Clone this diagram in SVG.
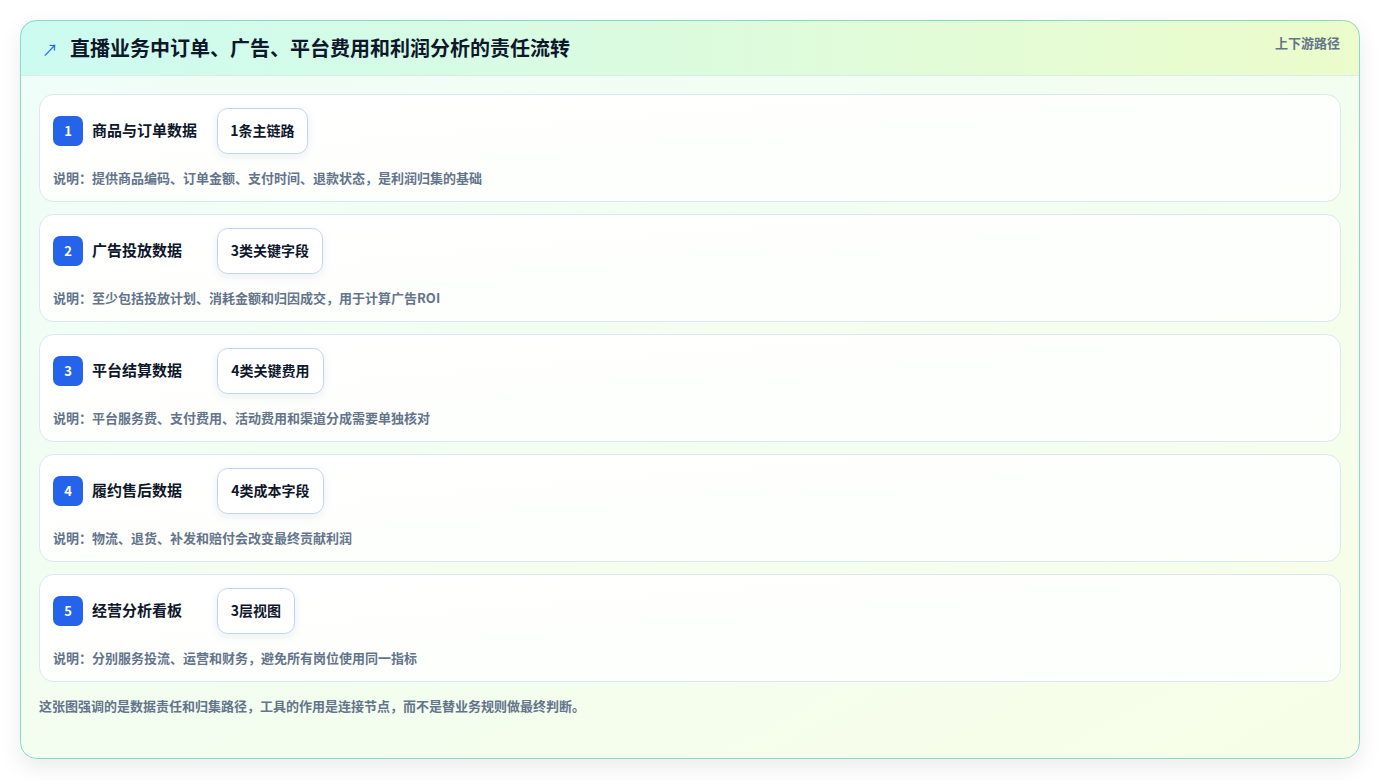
<svg xmlns="http://www.w3.org/2000/svg" width="1381" height="780" viewBox="0 0 1381 780">
<defs>
<linearGradient id="bg" x1="0" y1="0" x2="1" y2="1"><stop offset="0" stop-color="#effdf9"/><stop offset="1" stop-color="#f7fee7"/></linearGradient>
<linearGradient id="hd" x1="0" y1="0" x2="1" y2="0"><stop offset="0" stop-color="#ccfbf1"/><stop offset="1" stop-color="#ecfccb"/></linearGradient>
<linearGradient id="rowg" x1="0" y1="0" x2="1" y2="1"><stop offset="0" stop-color="#ffffff"/><stop offset="1" stop-color="#fcfffa"/></linearGradient>
<filter id="sh" x="-5%" y="-5%" width="110%" height="115%"><feDropShadow dx="0" dy="8" stdDeviation="10" flood-color="#0f172a" flood-opacity="0.08"/></filter>
<filter id="psh" x="-20%" y="-20%" width="140%" height="160%"><feDropShadow dx="0" dy="3" stdDeviation="4" flood-color="#1e3a8a" flood-opacity="0.08"/></filter>
<clipPath id="cardclip"><rect x="20" y="20" width="1340" height="739" rx="16"/></clipPath>
</defs>
<style>
text{font-family:"Noto Sans CJK SC","Noto Sans",sans-serif}
.row{fill:url(#rowg);stroke:#dbe7f3;stroke-width:1}
.badge{fill:#2563eb}
.num{fill:#ffffff;font-size:13px;font-weight:700;text-anchor:middle}
.ttl{fill:#0f172a;font-size:15px;font-weight:700}
.pill{fill:#ffffff;stroke:#c3d3ec;stroke-width:1}
.ptxt{fill:#0f172a;font-size:14px;font-weight:700;text-anchor:middle}
.desc{fill:#64748b;font-size:13px;font-weight:700}
</style>
<rect x="0" y="0" width="1381" height="780" fill="#ffffff"/>
<g id="card">
<rect x="20" y="20" width="1340" height="739" rx="16" fill="url(#bg)" filter="url(#sh)"/>
<g clip-path="url(#cardclip)">
<rect x="20" y="20" width="1340" height="55" fill="url(#hd)"/>
<line x1="20" y1="75.5" x2="1360" y2="75.5" stroke="#d5efe9" stroke-width="1"/>
</g>
<rect x="20.5" y="20.5" width="1339" height="738" rx="16" fill="none" stroke="#86dccb" stroke-width="1"/>
</g>
<g id="header">
<text x="42" y="56" font-size="16" fill="#2563eb" font-family="DejaVu Sans,sans-serif">↗</text>
<text x="70" y="56" font-size="20" font-weight="700" fill="#0f172a">直播业务中订单、广告、平台费用和利润分析的责任流转</text>
<text x="1340" y="48" font-size="13" font-weight="700" fill="#64748b" text-anchor="end">上下游路径</text>
</g>
<g id="node1">
<rect class="row" x="39.5" y="94.5" width="1301" height="107" rx="14"/>
<rect class="badge" x="53" y="116" width="30" height="30" rx="7"/>
<text class="num" x="68" y="135.5">1</text>
<text class="ttl" x="92" y="136">商品与订单数据</text>
<rect class="pill" x="217.5" y="108.5" width="90" height="45" rx="10" filter="url(#psh)"/>
<text class="ptxt" x="262.5" y="135.5">1条主链路</text>
<text class="desc" x="53" y="183">说明：提供商品编码、订单金额、支付时间、退款状态，是利润归集的基础</text>
</g>
<g id="node2">
<rect class="row" x="39.5" y="214.5" width="1301" height="107" rx="14"/>
<rect class="badge" x="53" y="236" width="30" height="30" rx="7"/>
<text class="num" x="68" y="255.5">2</text>
<text class="ttl" x="92" y="256">广告投放数据</text>
<rect class="pill" x="217.5" y="228.5" width="105" height="45" rx="10" filter="url(#psh)"/>
<text class="ptxt" x="270" y="255.5">3类关键字段</text>
<text class="desc" x="53" y="303">说明：至少包括投放计划、消耗金额和归因成交，用于计算广告ROI</text>
</g>
<g id="node3">
<rect class="row" x="39.5" y="334.5" width="1301" height="107" rx="14"/>
<rect class="badge" x="53" y="356" width="30" height="30" rx="7"/>
<text class="num" x="68" y="375.5">3</text>
<text class="ttl" x="92" y="376">平台结算数据</text>
<rect class="pill" x="217.5" y="348.5" width="106" height="45" rx="10" filter="url(#psh)"/>
<text class="ptxt" x="270.5" y="375.5">4类关键费用</text>
<text class="desc" x="53" y="423">说明：平台服务费、支付费用、活动费用和渠道分成需要单独核对</text>
</g>
<g id="node4">
<rect class="row" x="39.5" y="454.5" width="1301" height="107" rx="14"/>
<rect class="badge" x="53" y="476" width="30" height="30" rx="7"/>
<text class="num" x="68" y="495.5">4</text>
<text class="ttl" x="92" y="496">履约售后数据</text>
<rect class="pill" x="217.5" y="468.5" width="106" height="45" rx="10" filter="url(#psh)"/>
<text class="ptxt" x="270.5" y="495.5">4类成本字段</text>
<text class="desc" x="53" y="543">说明：物流、退货、补发和赔付会改变最终贡献利润</text>
</g>
<g id="node5">
<rect class="row" x="39.5" y="574.5" width="1301" height="107" rx="14"/>
<rect class="badge" x="53" y="596" width="30" height="30" rx="7"/>
<text class="num" x="68" y="615.5">5</text>
<text class="ttl" x="92" y="616">经营分析看板</text>
<rect class="pill" x="217.5" y="588.5" width="77" height="45" rx="10" filter="url(#psh)"/>
<text class="ptxt" x="256" y="615.5">3层视图</text>
<text class="desc" x="53" y="663">说明：分别服务投流、运营和财务，避免所有岗位使用同一指标</text>
</g>
<g id="connectors"></g>
<g id="footer">
<text class="desc" x="39" y="711">这张图强调的是数据责任和归集路径，工具的作用是连接节点，而不是替业务规则做最终判断。</text>
</g>
</svg>
